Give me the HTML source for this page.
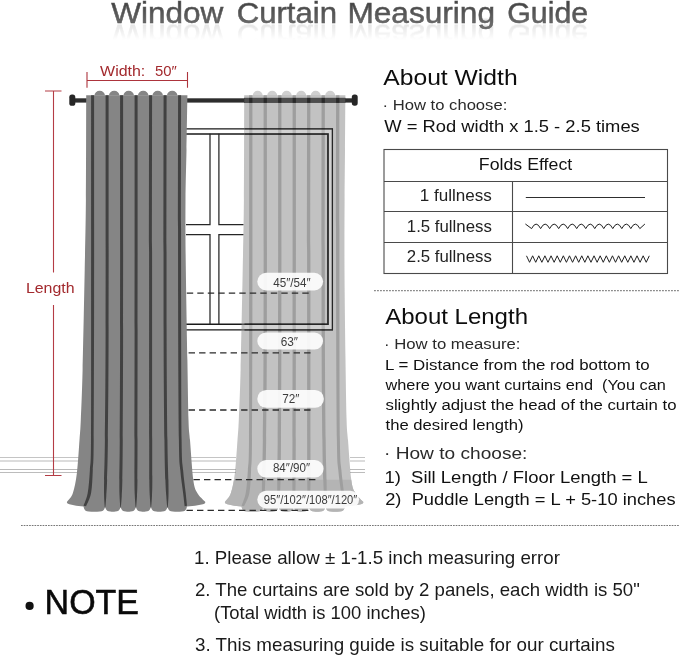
<!DOCTYPE html>
<html lang="en"><head><meta charset="utf-8"><title>Window Curtain Measuring Guide</title>
<style>
html,body{margin:0;padding:0;background:#fff;}
body{width:679px;height:656px;overflow:hidden;position:relative;font-family:"Liberation Sans", sans-serif;}
#title{position:absolute;left:0;top:-4.1px;width:679px;height:34px;overflow:visible;
 -webkit-box-reflect:below -12.4px linear-gradient(to bottom,rgba(0,0,0,0) 34%,rgba(0,0,0,0.17) 80%);}
</style></head><body>
<svg width="679" height="656" viewBox="0 0 679 656" style="position:absolute;left:0;top:0;will-change:transform" font-family='"Liberation Sans", sans-serif'>
<rect width="679" height="656" fill="#fff"/>
<path d="M0,457.5 H80 M190,457.5 H236 M350,457.5 H365" stroke="#c4c4c4" stroke-width="1" fill="none"/>
<path d="M0,461 H80 M190,461 H236 M350,461 H365" stroke="#dcdcdc" stroke-width="2" fill="none"/>
<path d="M0,469.5 H80 M190,469.5 H236 M350,469.5 H365" stroke="#bababa" stroke-width="1" fill="none"/>
<path d="M0,472.5 H80 M190,472.5 H236 M350,472.5 H365" stroke="#bcbcbc" stroke-width="1" fill="none"/>
<g fill="none" stroke="#1a1a1a">
<path d="M186,128.9 H332.4 V329.8 H186" stroke-width="1.3"/>
<path d="M186,134 H328 V324.3 H186" stroke-width="1.6"/>
<path d="M210,133.8 V224.5 H186 M218.9,133.8 V224.5 H243.5 M186,234.5 H210 V324.3 M243.5,234.5 H218.9 V324.3" stroke-width="1.25" stroke="#262626"/>
</g>
<rect x="74" y="98.3" width="279" height="4.3" fill="#2d2d2d"/>
<rect x="244" y="97.8" width="101.4" height="5.1" fill="#141414"/>
<rect x="69.3" y="94.6" width="6.0" height="11.2" rx="2.6" fill="#262626"/>
<rect x="351.8" y="94.4" width="5.9" height="11.3" rx="2.6" fill="#262626"/>
<g transform="translate(0,0)"><g opacity="1"><path d="M86.20,95.20 L187.40,95.20 C187.25,104.33 186.82,132.53 186.50,150.00 C186.18,167.47 185.63,181.67 185.50,200.00 C185.37,218.33 185.38,233.33 185.70,260.00 C186.02,286.67 186.93,333.33 187.40,360.00 C187.87,386.67 188.07,406.67 188.50,420.00 C188.93,433.33 189.20,430.00 190.00,440.00 C190.80,450.00 192.08,471.17 193.30,480.00 C194.52,488.83 195.35,489.40 197.30,493.00 C199.25,496.60 203.72,500.17 205.00,501.60 Q206.20,503.60 203.00,504.20 Q195.00,506.00 187.00,506.60 C186.40,510.00 184.80,511.50 181.80,511.60 Q177.25,512.10 172.70,511.60 C169.70,511.50 168.10,510.00 167.50,506.60 C166.90,510.00 165.30,511.50 162.30,511.60 Q159.20,512.10 156.10,511.60 C153.10,511.50 151.50,510.00 150.90,506.60 C150.30,510.00 148.70,511.50 145.70,511.60 Q143.40,512.10 141.10,511.60 C138.10,511.50 136.50,510.00 135.90,506.60 C135.30,510.00 133.70,511.50 130.70,511.60 Q128.25,512.10 125.80,511.60 C122.80,511.50 121.20,510.00 120.60,506.60 C120.00,510.00 118.40,511.50 115.40,511.60 Q112.85,512.10 110.30,511.60 C107.30,511.50 105.70,510.00 105.10,506.60 C104.50,510.00 102.90,511.50 99.90,511.60 Q94.30,512.10 88.70,511.60 C85.70,511.50 84.10,510.00 83.50,506.60 Q76.00,506.00 69.40,504.20 Q66.00,503.40 67.20,501.60 C68.15,500.17 71.28,497.77 72.90,493.00 C74.52,488.23 75.80,481.83 76.90,473.00 C78.00,464.17 78.85,448.83 79.50,440.00 C80.15,431.17 80.28,431.67 80.80,420.00 C81.32,408.33 81.95,395.00 82.60,370.00 C83.25,345.00 84.15,298.33 84.70,270.00 C85.25,241.67 85.65,229.13 85.90,200.00 C86.15,170.87 86.15,112.67 86.20,95.20 Z" fill="#858585"/><path d="M91.10,95.20 C91.10,129.33 91.12,242.53 91.10,300.00 C91.08,357.47 91.20,411.67 91.00,440.00 C90.80,468.33 90.45,461.17 89.90,470.00 C89.35,478.83 88.77,487.03 87.70,493.00 C86.63,498.97 84.20,503.67 83.50,505.80 L86.10,506.20 C86.93,504.00 89.98,499.03 91.10,493.00 C92.22,486.97 92.37,478.83 92.80,470.00 C93.23,461.17 93.48,468.33 93.70,440.00 C93.92,411.67 94.03,357.47 94.10,300.00 C94.17,242.53 94.10,129.33 94.10,95.20 Z M105.60,95.20 C105.60,134.33 105.72,272.53 105.60,330.00 C105.48,387.47 105.15,415.00 104.90,440.00 C104.65,465.00 104.23,470.67 104.10,480.00 C103.97,489.33 103.97,491.37 104.10,496.00 C104.22,500.63 104.72,505.83 104.85,507.80 L105.35,507.80 C105.51,505.83 106.01,500.63 106.30,496.00 C106.59,491.37 106.83,489.33 107.10,480.00 C107.37,470.67 107.65,465.00 107.90,440.00 C108.15,415.00 108.48,387.47 108.60,330.00 C108.72,272.53 108.60,134.33 108.60,95.20 Z M120.10,95.20 C120.10,134.33 120.16,272.53 120.10,330.00 C120.04,387.47 119.88,415.00 119.75,440.00 C119.62,465.00 119.38,470.67 119.35,480.00 C119.32,489.33 119.38,491.37 119.55,496.00 C119.72,500.63 120.22,505.83 120.35,507.80 L120.85,507.80 C121.00,505.83 121.50,500.63 121.75,496.00 C122.00,491.37 122.18,489.33 122.35,480.00 C122.52,470.67 122.62,465.00 122.75,440.00 C122.88,415.00 123.04,387.47 123.10,330.00 C123.16,272.53 123.10,134.33 123.10,95.20 Z M134.60,95.20 C134.60,134.33 134.61,272.53 134.60,330.00 C134.59,387.47 134.56,415.00 134.53,440.00 C134.50,465.00 134.40,470.67 134.45,480.00 C134.50,489.33 134.61,491.37 134.81,496.00 C135.01,500.63 135.51,505.83 135.65,507.80 L136.15,507.80 C136.29,505.83 136.79,500.63 137.01,496.00 C137.23,491.37 137.36,489.33 137.45,480.00 C137.54,470.67 137.50,465.00 137.53,440.00 C137.56,415.00 137.59,387.47 137.60,330.00 C137.61,272.53 137.60,134.33 137.60,95.20 Z M149.10,95.20 C149.10,134.33 149.08,272.53 149.10,330.00 C149.12,387.47 149.17,415.00 149.20,440.00 C149.24,465.00 149.23,470.67 149.32,480.00 C149.42,489.33 149.56,491.37 149.78,496.00 C150.01,500.63 150.51,505.83 150.65,507.80 L151.15,507.80 C151.29,505.83 151.79,500.63 151.98,496.00 C152.18,491.37 152.29,489.33 152.32,480.00 C152.36,470.67 152.24,465.00 152.20,440.00 C152.17,415.00 152.12,387.47 152.10,330.00 C152.08,272.53 152.10,134.33 152.10,95.20 Z M163.60,95.20 C163.60,134.33 163.46,272.53 163.60,330.00 C163.74,387.47 164.14,415.00 164.44,440.00 C164.74,465.00 165.09,470.67 165.40,480.00 C165.71,489.33 165.97,491.37 166.28,496.00 C166.59,500.63 167.09,505.83 167.25,507.80 L167.75,507.80 C167.87,505.83 168.37,500.63 168.48,496.00 C168.59,491.37 168.57,489.33 168.40,480.00 C168.23,470.67 167.74,465.00 167.44,440.00 C167.14,415.00 166.74,387.47 166.60,330.00 C166.46,272.53 166.60,134.33 166.60,95.20 Z M178.10,95.20 C178.10,129.33 177.97,242.53 178.10,300.00 C178.23,357.47 178.53,411.67 178.90,440.00 C179.27,468.33 179.60,461.17 180.30,470.00 C181.00,478.83 182.38,486.97 183.10,493.00 C183.82,499.03 184.35,504.00 184.60,506.20 L187.00,505.80 C186.78,503.67 186.35,498.97 185.70,493.00 C185.05,487.03 183.78,478.83 183.10,470.00 C182.42,461.17 181.93,468.33 181.60,440.00 C181.27,411.67 181.18,357.47 181.10,300.00 C181.02,242.53 181.10,129.33 181.10,95.20 Z" fill="#414141"/></g><path d="M94.45,95.50 A5.25,4.70 0 0 1 104.95,95.50 Z M108.95,95.50 A5.25,4.70 0 0 1 119.45,95.50 Z M123.45,95.50 A5.25,4.70 0 0 1 133.95,95.50 Z M137.95,95.50 A5.25,4.70 0 0 1 148.45,95.50 Z M152.45,95.50 A5.25,4.70 0 0 1 162.95,95.50 Z M166.95,95.50 A5.25,4.70 0 0 1 177.45,95.50 Z " fill="#858585" opacity="1"/></g>
<g transform="translate(158,0)"><g opacity="0.5"><path d="M86.20,95.20 L187.40,95.20 C187.33,104.33 187.13,132.53 187.00,150.00 C186.87,167.47 186.68,180.00 186.60,200.00 C186.52,220.00 186.35,243.33 186.50,270.00 C186.65,296.67 187.15,335.00 187.50,360.00 C187.85,385.00 188.18,406.67 188.60,420.00 C189.02,433.33 189.22,430.00 190.00,440.00 C190.78,450.00 192.08,471.17 193.30,480.00 C194.52,488.83 195.35,489.40 197.30,493.00 C199.25,496.60 203.72,500.17 205.00,501.60 Q206.20,503.60 203.00,504.20 Q195.00,506.00 187.00,506.60 C186.40,510.00 184.80,511.50 181.80,511.60 Q177.25,512.10 172.70,511.60 C169.70,511.50 168.10,510.00 167.50,506.60 C166.90,510.00 165.30,511.50 162.30,511.60 Q159.20,512.10 156.10,511.60 C153.10,511.50 151.50,510.00 150.90,506.60 C150.30,510.00 148.70,511.50 145.70,511.60 Q143.40,512.10 141.10,511.60 C138.10,511.50 136.50,510.00 135.90,506.60 C135.30,510.00 133.70,511.50 130.70,511.60 Q128.25,512.10 125.80,511.60 C122.80,511.50 121.20,510.00 120.60,506.60 C120.00,510.00 118.40,511.50 115.40,511.60 Q112.85,512.10 110.30,511.60 C107.30,511.50 105.70,510.00 105.10,506.60 C104.50,510.00 102.90,511.50 99.90,511.60 Q94.30,512.10 88.70,511.60 C85.70,511.50 84.10,510.00 83.50,506.60 Q76.00,506.00 69.40,504.20 Q66.00,503.40 67.20,501.60 C68.15,500.17 71.28,497.77 72.90,493.00 C74.52,488.23 75.80,481.83 76.90,473.00 C78.00,464.17 78.85,448.83 79.50,440.00 C80.15,431.17 80.28,431.67 80.80,420.00 C81.32,408.33 81.95,395.00 82.60,370.00 C83.25,345.00 84.15,298.33 84.70,270.00 C85.25,241.67 85.65,229.13 85.90,200.00 C86.15,170.87 86.15,112.67 86.20,95.20 Z" fill="#868686"/><clipPath id="pud"><rect x="0" y="479.8" width="400" height="40"/></clipPath><path d="M86.20,95.20 L187.40,95.20 C187.33,104.33 187.13,132.53 187.00,150.00 C186.87,167.47 186.68,180.00 186.60,200.00 C186.52,220.00 186.35,243.33 186.50,270.00 C186.65,296.67 187.15,335.00 187.50,360.00 C187.85,385.00 188.18,406.67 188.60,420.00 C189.02,433.33 189.22,430.00 190.00,440.00 C190.78,450.00 192.08,471.17 193.30,480.00 C194.52,488.83 195.35,489.40 197.30,493.00 C199.25,496.60 203.72,500.17 205.00,501.60 Q206.20,503.60 203.00,504.20 Q195.00,506.00 187.00,506.60 C186.40,510.00 184.80,511.50 181.80,511.60 Q177.25,512.10 172.70,511.60 C169.70,511.50 168.10,510.00 167.50,506.60 C166.90,510.00 165.30,511.50 162.30,511.60 Q159.20,512.10 156.10,511.60 C153.10,511.50 151.50,510.00 150.90,506.60 C150.30,510.00 148.70,511.50 145.70,511.60 Q143.40,512.10 141.10,511.60 C138.10,511.50 136.50,510.00 135.90,506.60 C135.30,510.00 133.70,511.50 130.70,511.60 Q128.25,512.10 125.80,511.60 C122.80,511.50 121.20,510.00 120.60,506.60 C120.00,510.00 118.40,511.50 115.40,511.60 Q112.85,512.10 110.30,511.60 C107.30,511.50 105.70,510.00 105.10,506.60 C104.50,510.00 102.90,511.50 99.90,511.60 Q94.30,512.10 88.70,511.60 C85.70,511.50 84.10,510.00 83.50,506.60 Q76.00,506.00 69.40,504.20 Q66.00,503.40 67.20,501.60 C68.15,500.17 71.28,497.77 72.90,493.00 C74.52,488.23 75.80,481.83 76.90,473.00 C78.00,464.17 78.85,448.83 79.50,440.00 C80.15,431.17 80.28,431.67 80.80,420.00 C81.32,408.33 81.95,395.00 82.60,370.00 C83.25,345.00 84.15,298.33 84.70,270.00 C85.25,241.67 85.65,229.13 85.90,200.00 C86.15,170.87 86.15,112.67 86.20,95.20 Z" fill="#6c6c6c" clip-path="url(#pud)"/><path d="M91.10,95.20 C91.10,129.33 91.12,242.53 91.10,300.00 C91.08,357.47 91.20,411.67 91.00,440.00 C90.80,468.33 90.45,461.17 89.90,470.00 C89.35,478.83 88.77,487.03 87.70,493.00 C86.63,498.97 84.20,503.67 83.50,505.80 L86.10,506.20 C86.98,504.00 90.23,499.03 91.40,493.00 C92.57,486.97 92.67,478.83 93.10,470.00 C93.53,461.17 93.78,468.33 94.00,440.00 C94.22,411.67 94.33,357.47 94.40,300.00 C94.47,242.53 94.40,129.33 94.40,95.20 Z M105.60,95.20 C105.60,134.33 105.73,272.53 105.60,330.00 C105.47,387.47 105.12,415.00 104.85,440.00 C104.58,465.00 104.14,470.67 103.99,480.00 C103.84,489.33 103.81,491.37 103.96,496.00 C104.10,500.63 104.70,505.83 104.85,507.80 L105.35,507.80 C105.53,505.83 106.13,500.63 106.46,496.00 C106.78,491.37 107.01,489.33 107.29,480.00 C107.57,470.67 107.88,465.00 108.15,440.00 C108.42,415.00 108.77,387.47 108.90,330.00 C109.03,272.53 108.90,134.33 108.90,95.20 Z M120.10,95.20 C120.10,134.33 120.17,272.53 120.10,330.00 C120.03,387.47 119.84,415.00 119.70,440.00 C119.55,465.00 119.29,470.67 119.24,480.00 C119.19,489.33 119.22,491.37 119.41,496.00 C119.59,500.63 120.19,505.83 120.35,507.80 L120.85,507.80 C121.03,505.83 121.63,500.63 121.91,496.00 C122.19,491.37 122.36,489.33 122.54,480.00 C122.72,470.67 122.85,465.00 123.00,440.00 C123.14,415.00 123.33,387.47 123.40,330.00 C123.47,272.53 123.40,134.33 123.40,95.20 Z M134.60,95.20 C134.60,134.33 134.62,272.53 134.60,330.00 C134.58,387.47 134.52,415.00 134.48,440.00 C134.43,465.00 134.31,470.67 134.34,480.00 C134.37,489.33 134.45,491.37 134.67,496.00 C134.89,500.63 135.49,505.83 135.65,507.80 L136.15,507.80 C136.32,505.83 136.92,500.63 137.17,496.00 C137.42,491.37 137.54,489.33 137.64,480.00 C137.74,470.67 137.73,465.00 137.78,440.00 C137.82,415.00 137.88,387.47 137.90,330.00 C137.92,272.53 137.90,134.33 137.90,95.20 Z M149.10,95.20 C149.10,134.33 149.09,272.53 149.10,330.00 C149.11,387.47 149.13,415.00 149.15,440.00 C149.17,465.00 149.13,470.67 149.21,480.00 C149.29,489.33 149.40,491.37 149.64,496.00 C149.88,500.63 150.48,505.83 150.65,507.80 L151.15,507.80 C151.32,505.83 151.92,500.63 152.14,496.00 C152.37,491.37 152.46,489.33 152.51,480.00 C152.56,470.67 152.47,465.00 152.45,440.00 C152.43,415.00 152.41,387.47 152.40,330.00 C152.39,272.53 152.40,134.33 152.40,95.20 Z M163.60,95.20 C163.60,134.33 163.47,272.53 163.60,330.00 C163.73,387.47 164.11,415.00 164.39,440.00 C164.67,465.00 165.00,470.67 165.29,480.00 C165.58,489.33 165.81,491.37 166.14,496.00 C166.46,500.63 167.06,505.83 167.25,507.80 L167.75,507.80 C167.90,505.83 168.50,500.63 168.64,496.00 C168.78,491.37 168.75,489.33 168.59,480.00 C168.43,470.67 167.97,465.00 167.69,440.00 C167.41,415.00 167.03,387.47 166.90,330.00 C166.77,272.53 166.90,134.33 166.90,95.20 Z M178.10,95.20 C178.10,129.33 177.97,242.53 178.10,300.00 C178.23,357.47 178.53,411.67 178.90,440.00 C179.27,468.33 179.60,461.17 180.30,470.00 C181.00,478.83 182.38,486.97 183.10,493.00 C183.82,499.03 184.35,504.00 184.60,506.20 L187.00,505.80 C186.83,503.67 186.60,498.97 186.00,493.00 C185.40,487.03 184.08,478.83 183.40,470.00 C182.72,461.17 182.23,468.33 181.90,440.00 C181.57,411.67 181.48,357.47 181.40,300.00 C181.32,242.53 181.40,129.33 181.40,95.20 Z" fill="#404040"/></g><path d="M94.70,95.50 A5.00,4.70 0 0 1 104.70,95.50 Z M109.20,95.50 A5.00,4.70 0 0 1 119.20,95.50 Z M123.70,95.50 A5.00,4.70 0 0 1 133.70,95.50 Z M138.20,95.50 A5.00,4.70 0 0 1 148.20,95.50 Z M152.70,95.50 A5.00,4.70 0 0 1 162.70,95.50 Z M167.20,95.50 A5.00,4.70 0 0 1 177.20,95.50 Z " fill="#868686" opacity="0.4"/></g>
<clipPath id="shc"><rect x="244.5" y="120" width="100" height="220"/></clipPath>
<g clip-path="url(#shc)" fill="none" stroke="#222" opacity="0.9">
<path d="M328,134 H332.4 V329.8 H328 Z M200,128.8 H332.4 V134 H200 Z M200,324.3 H332.4 V329.8 H200 Z" fill="#fff" fill-opacity="0.28" stroke="none"/>
<path d="M186,128.8 H332.4 V329.8 H186" stroke-width="1.2"/>
<path d="M186,134 H328 V324.3 H186" stroke-width="1.6"/>
</g>
<line x1="186.8" y1="293.1" x2="309.5" y2="293.1" stroke="#2b2b2b" stroke-width="1.35" stroke-dasharray="6.4 4.1"/>
<line x1="188.6" y1="352.9" x2="311" y2="352.9" stroke="#2b2b2b" stroke-width="1.35" stroke-dasharray="6.4 4.1"/>
<line x1="188.6" y1="410" x2="311" y2="410" stroke="#2b2b2b" stroke-width="1.35" stroke-dasharray="6.4 4.1"/>
<line x1="193.5" y1="479.6" x2="317.5" y2="479.6" stroke="#2b2b2b" stroke-width="1.35" stroke-dasharray="6.4 4.1"/>
<line x1="186.5" y1="510.3" x2="310" y2="510.3" stroke="#2b2b2b" stroke-width="1.35" stroke-dasharray="6.4 4.1"/>
<rect x="257.3" y="272.8" width="65.8" height="17.6" rx="8.8" fill="#fff" fill-opacity="0.9"/>
<text x="273.2" y="286.5" font-size="12.40" fill="#3c3c3c" textLength="37.5" lengthAdjust="spacingAndGlyphs">45″/54″</text>
<rect x="257.3" y="332.4" width="65.8" height="17.2" rx="8.6" fill="#fff" fill-opacity="0.9"/>
<text x="280.7" y="345.8" font-size="12.40" fill="#3c3c3c" textLength="17.3" lengthAdjust="spacingAndGlyphs">63″</text>
<rect x="257.3" y="390" width="66.6" height="17.8" rx="8.9" fill="#fff" fill-opacity="0.9"/>
<text x="282.2" y="403.2" font-size="12.40" fill="#3c3c3c" textLength="17.2" lengthAdjust="spacingAndGlyphs">72″</text>
<rect x="257.3" y="460.1" width="66.3" height="17.4" rx="8.7" fill="#fff" fill-opacity="0.9"/>
<text x="272.9" y="472.4" font-size="12.40" fill="#3c3c3c" textLength="37.2" lengthAdjust="spacingAndGlyphs">84″/90″</text>
<rect x="257.3" y="490.8" width="101.8" height="17.6" rx="8.8" fill="#fff" fill-opacity="0.9"/>
<text x="263.8" y="503.5" font-size="12.40" fill="#3c3c3c" textLength="93.5" lengthAdjust="spacingAndGlyphs">95″/102″/108″/120″</text>
<path d="M87,72 V87.8 M187.5,72 V87.8 M87,80.5 H187.5" stroke="#ad343c" stroke-width="1.1" fill="none"/>
<text x="100.1" y="75.9" font-size="15.00" fill="#a32a2e" textLength="45.2" lengthAdjust="spacingAndGlyphs">Width:</text>
<text x="155.0" y="75.9" font-size="15.00" fill="#a32a2e" textLength="21.8" lengthAdjust="spacingAndGlyphs">50″</text>
<path d="M45,91 H61.5 M45,475.5 H61.5 M53.5,91 V272.6 M53.5,305 V475.5" stroke="#b43c45" stroke-width="1.1" fill="none"/>
<text x="25.9" y="292.5" font-size="15.20" fill="#a32a2e" textLength="48.7" lengthAdjust="spacingAndGlyphs">Length</text>
<line x1="374" y1="290.7" x2="679" y2="290.7" stroke="#8c8c8c" stroke-width="1.3" stroke-dasharray="1.9 1.1"/>
<line x1="21" y1="525.5" x2="679" y2="525.5" stroke="#777" stroke-width="1" stroke-dasharray="1.7 1"/>
<text x="383.3" y="84.5" font-size="21.30" fill="#0d0d0d" textLength="134.3" lengthAdjust="spacingAndGlyphs">About Width</text>
<text x="382.6" y="109.7" font-size="15.20" fill="#2a2a2a" textLength="124.7" lengthAdjust="spacingAndGlyphs">· How to choose:</text>
<text x="384.3" y="131.9" font-size="16.90" fill="#111" textLength="255.5" lengthAdjust="spacingAndGlyphs">W = Rod width x 1.5 - 2.5 times</text>
<g fill="none" stroke="#4a4a4a" stroke-width="1.1">
<rect x="384" y="149.5" width="283.5" height="124"/>
<path d="M384,181.5 H667.5 M384,211.5 H667.5 M384,242.5 H667.5 M512.5,181.5 V273.5"/>
</g>
<text x="478.8" y="170.0" font-size="16.60" fill="#111" textLength="93.4" lengthAdjust="spacingAndGlyphs">Folds Effect</text>
<text x="419.8" y="201.4" font-size="16.60" fill="#222" textLength="72.0" lengthAdjust="spacingAndGlyphs">1 fullness</text>
<text x="406.8" y="232.3" font-size="16.60" fill="#222" textLength="85.0" lengthAdjust="spacingAndGlyphs">1.5 fullness</text>
<text x="406.8" y="262.4" font-size="16.60" fill="#222" textLength="85.0" lengthAdjust="spacingAndGlyphs">2.5 fullness</text>
<line x1="525.8" y1="197.5" x2="645" y2="197.5" stroke="#2e2e2e" stroke-width="1"/>
<path d="M525.4,224.0 L531.60,228.6 Q536.11,219.6 540.62,228.6 Q545.13,219.6 549.64,228.6 Q554.15,219.6 558.66,228.6 Q563.17,219.6 567.68,228.6 Q572.19,219.6 576.70,228.6 Q581.21,219.6 585.72,228.6 Q590.23,219.6 594.74,228.6 Q599.25,219.6 603.76,228.6 Q608.27,219.6 612.78,228.6 Q617.29,219.6 621.80,228.6 Q626.31,219.6 630.82,228.6 Q635.33,219.6 639.84,228.6 L644.9,224.0" fill="none" stroke="#1e1e1e" stroke-width="1" stroke-linejoin="miter"/>
<path d="M526.50,255.80 L529.57,262.30 L532.64,255.80 L535.71,262.30 L538.78,255.80 L541.85,262.30 L544.92,255.80 L547.99,262.30 L551.06,255.80 L554.13,262.30 L557.20,255.80 L560.27,262.30 L563.34,255.80 L566.41,262.30 L569.48,255.80 L572.55,262.30 L575.62,255.80 L578.69,262.30 L581.76,255.80 L584.83,262.30 L587.90,255.80 L590.97,262.30 L594.04,255.80 L597.11,262.30 L600.18,255.80 L603.25,262.30 L606.32,255.80 L609.39,262.30 L612.46,255.80 L615.53,262.30 L618.60,255.80 L621.67,262.30 L624.74,255.80 L627.81,262.30 L630.88,255.80 L633.95,262.30 L637.02,255.80 L640.09,262.30 L643.16,255.80 L646.23,262.30 L649.30,255.80 " fill="none" stroke="#222" stroke-width="1" stroke-linejoin="miter"/>
<text x="385.2" y="323.9" font-size="21.80" fill="#0d0d0d" textLength="142.8" lengthAdjust="spacingAndGlyphs">About Length</text>
<text x="384.0" y="349.1" font-size="15.20" fill="#2a2a2a" textLength="136.4" lengthAdjust="spacingAndGlyphs">· How to measure:</text>
<text x="385.1" y="369.5" font-size="15.40" fill="#111" textLength="264.5" lengthAdjust="spacingAndGlyphs">L = Distance from the rod bottom to</text>
<text x="385.5" y="389.5" font-size="15.40" fill="#111" textLength="280.3" lengthAdjust="spacingAndGlyphs">where you want curtains end&#160;&#160;(You can</text>
<text x="385.5" y="409.7" font-size="15.40" fill="#111" textLength="291.0" lengthAdjust="spacingAndGlyphs">slightly adjust the head of the curtain to</text>
<text x="385.5" y="430.0" font-size="15.40" fill="#111" textLength="138.0" lengthAdjust="spacingAndGlyphs">the desired length)</text>
<text x="384.0" y="459.0" font-size="17.00" fill="#2a2a2a" textLength="143.4" lengthAdjust="spacingAndGlyphs">· How to choose:</text>
<text x="384.4" y="482.7" font-size="16.30" fill="#111" textLength="263.4" lengthAdjust="spacingAndGlyphs">1)&#160;&#160;Sill Length / Floor Length = L</text>
<text x="385.2" y="505.0" font-size="16.30" fill="#111" textLength="290.4" lengthAdjust="spacingAndGlyphs">2)&#160;&#160;Puddle Length = L + 5-10 inches</text>
<circle cx="29.6" cy="605.9" r="4.1" fill="#111"/>
<text x="44.6" y="614.1" font-size="35.90" fill="#0a0a0a" textLength="94.4" lengthAdjust="spacingAndGlyphs" stroke="#0a0a0a" stroke-width="0.55">NOTE</text>
<text x="194.0" y="564.4" font-size="17.90" fill="#1a1a1a" textLength="365.9" lengthAdjust="spacingAndGlyphs">1. Please allow ± 1-1.5 inch measuring error</text>
<text x="195.0" y="595.8" font-size="17.90" fill="#1a1a1a" textLength="444.8" lengthAdjust="spacingAndGlyphs">2. The curtains are sold by 2 panels, each width is 50"</text>
<text x="214.0" y="618.9" font-size="17.90" fill="#1a1a1a" textLength="211.8" lengthAdjust="spacingAndGlyphs">(Total width is 100 inches)</text>
<text x="195.0" y="651.0" font-size="17.90" fill="#1a1a1a" textLength="419.8" lengthAdjust="spacingAndGlyphs">3. This measuring guide is suitable for our curtains</text>
</svg>
<svg id="title" width="679" height="34" viewBox="0 0 679 34" font-family='"Liberation Sans", sans-serif'><defs><linearGradient id="tg" x1="0" y1="0" x2="0" y2="1" gradientUnits="objectBoundingBox"><stop offset="0.2" stop-color="#444"/><stop offset="0.85" stop-color="#6b6b6b"/></linearGradient></defs><text y="27.4" font-size="30" fill="url(#tg)" stroke="#585858" stroke-width="0.5"><tspan x="111.2" textLength="112.2" lengthAdjust="spacingAndGlyphs">Window</tspan> <tspan x="236.7" textLength="100.3" lengthAdjust="spacingAndGlyphs">Curtain</tspan> <tspan x="347.4" textLength="147.6" lengthAdjust="spacingAndGlyphs">Measuring</tspan> <tspan x="507.2" textLength="81.0" lengthAdjust="spacingAndGlyphs">Guide</tspan></text></svg>
</body></html>
